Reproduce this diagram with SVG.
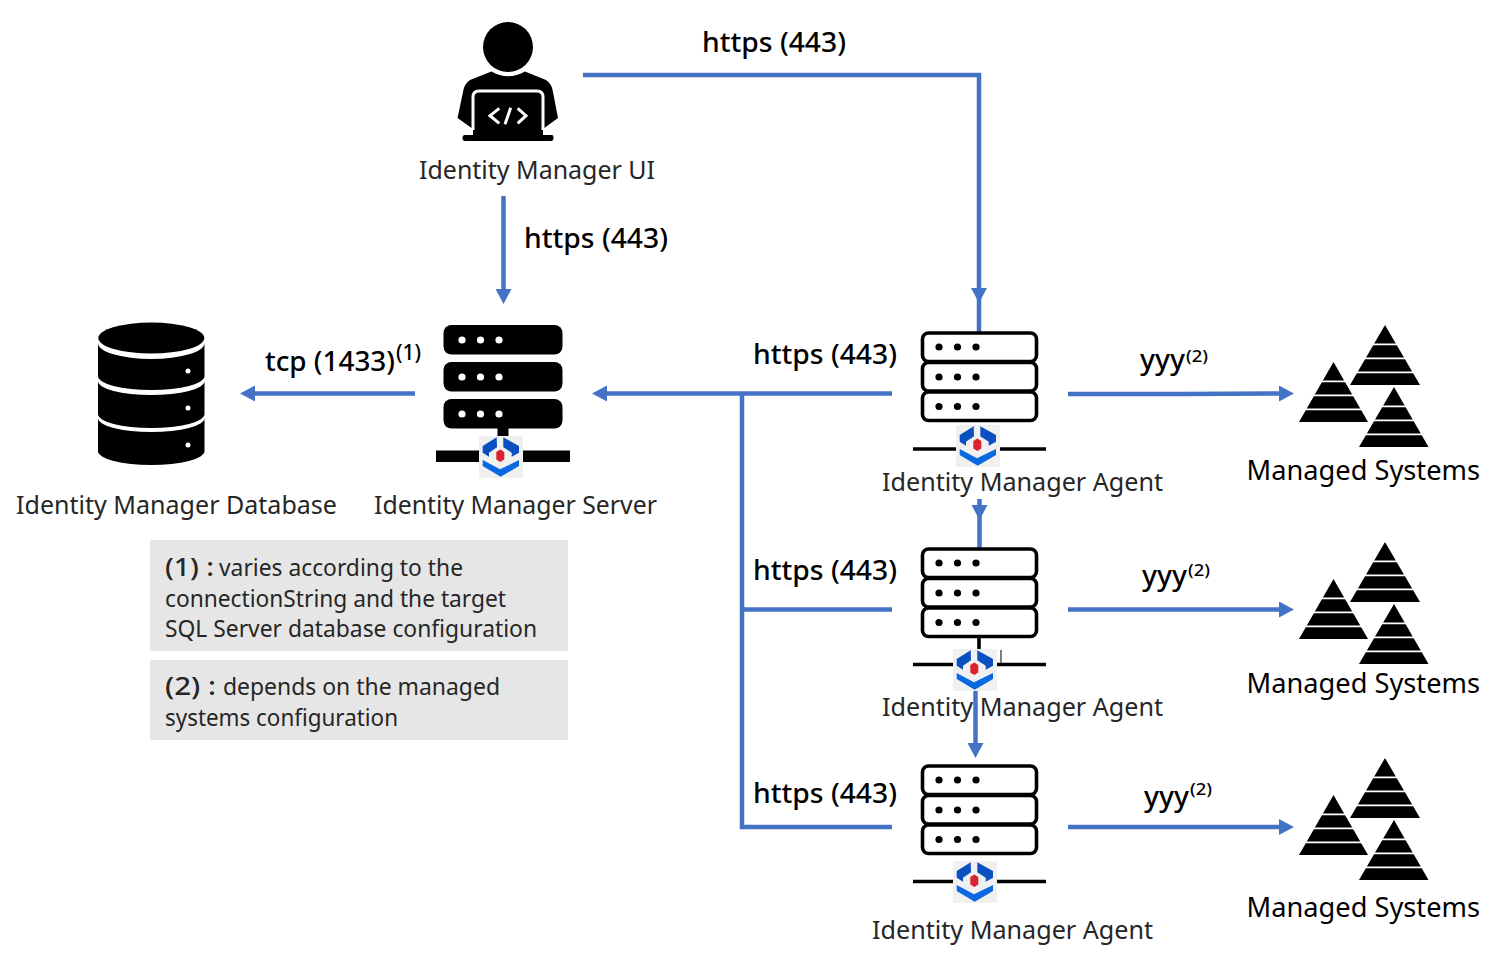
<svg xmlns="http://www.w3.org/2000/svg" width="1498" height="976" viewBox="0 0 1498 976">
<style>
text{font-family:"Noto Sans","Open Sans","Liberation Sans",sans-serif;fill:#262626}
.lab{font-size:26px}
.ms{font-size:27px;fill:#000}
.con{font-size:27px;font-weight:550;fill:#000}
.sup{font-size:17px;font-weight:500;fill:#000}
.note{font-size:24px}
.noteb{font-size:26px;font-weight:550}
.ln{fill:none;stroke:#4472C4;stroke-width:4.5}
.ag{fill:#fff;stroke:#000;stroke-width:3.6}
.wd{fill:#fff}
.kd{fill:#000}
</style>
<defs>
<marker id="arr" markerUnits="userSpaceOnUse" markerWidth="16" markerHeight="16" viewBox="0 0 15 16" refX="4" refY="8" orient="auto"><polygon points="0,0 15,8 0,16" fill="#4472C4"/></marker>
<g id="logo">
<rect width="44" height="42" fill="#f0f0f0"/>
<polygon points="3.7,10 17.7,1.3 18,11.3 10,16.7 10,20.7 3.7,16.7" fill="#0b50c0"/>
<polygon points="24.3,1.3 40,10 40,16.7 32.7,20.7 32.7,16.7 24.3,11.3" fill="#0b50c0"/>
<polygon points="3.7,24 21,33.3 40,24 40,30 21.7,40.7 3.7,30" fill="#0a68e0"/>
<polygon points="21.3,13.500 25.300,16 25.300,23.500 21.3,26 17.300,23.500 17.300,16" fill="#d9232e"/>
</g>
<g id="agentbody">
<rect class="ag" x="922.5" y="333" width="114" height="28.500" rx="6"/>
<rect class="ag" x="922.5" y="362.500" width="114" height="28.500" rx="6"/>
<rect class="ag" x="922.5" y="392" width="114" height="28.500" rx="6"/>
<g class="kd">
<circle cx="939" cy="347" r="3.6"/><circle cx="957.500" cy="347" r="3.6"/><circle cx="976" cy="347" r="3.6"/>
<circle cx="939" cy="377" r="3.6"/><circle cx="957.500" cy="377" r="3.6"/><circle cx="976" cy="377" r="3.6"/>
<circle cx="939" cy="406.500" r="3.6"/><circle cx="957.500" cy="406.500" r="3.6"/><circle cx="976" cy="406.500" r="3.6"/>
</g>
</g>
<g id="pyr">
<polygon class="kd" points="1385,325 1350,385 1420,385"/>
<polygon class="kd" points="1333.500,362 1299,422 1368,422"/>
<polygon class="kd" points="1394,387 1359,447 1428.500,447"/>
<g fill="none" stroke="#fff" stroke-width="1.800">
<path d="M1373,344.300H1397M1365,358.300H1405M1356,372.300H1414"/>
<path d="M1321,381.300H1346M1313,395.300H1354M1305,409.300H1362"/>
<path d="M1382,406.300H1406M1374,420.300H1414M1366,434.300H1422"/>
</g>
</g>
</defs>
<rect width="1498" height="976" fill="#fff"/>

<g id="connectors">
<path class="ln" d="M583,75H979V292" marker-end="url(#arr)"/>
<path class="ln" d="M979,295V332"/>
<path class="ln" d="M503.500,196V293" marker-end="url(#arr)"/>
<path class="ln" d="M892,393.500H603" marker-end="url(#arr)"/>
<path class="ln" d="M742,393.500V827H892"/>
<path class="ln" d="M742,609.500H892"/>
<path class="ln" d="M415,393.500H251" marker-end="url(#arr)"/>
<path class="ln" d="M1068,394H1183L1283,393.500" marker-end="url(#arr)"/>
<path class="ln" d="M1068,609.500H1283" marker-end="url(#arr)"/>
<path class="ln" d="M1068,827H1283" marker-end="url(#arr)"/>
<path class="ln" d="M979.500,499V509" marker-end="url(#arr)"/>
<path class="ln" d="M979.500,512V548"/>
<path class="ln" d="M975.500,691V747" marker-end="url(#arr)"/>
</g>

<g id="ui">
<circle class="kd" cx="508" cy="47" r="25"/>
<path class="kd" d="M491.500,71.500Q508,81 525,71.500L546,80Q552,84 553,92L558,118L543,129V135H552Q553.500,135 553.500,138Q553.500,141 551,141H465Q462.500,141 462.500,138Q462.500,135 465,135H473V129L457.500,118L463,92Q464,84 470,80Z"/>
<path d="M473,130V97Q473,91 479,91H537Q543,91 543,97V130" fill="none" stroke="#fff" stroke-width="3"/>
<path d="M499.300,108.300L490,115.700L499.300,123.300M510.700,107.700L505,124.300M517.700,108.300L526,115.700L517.700,123.300" fill="none" stroke="#fff" stroke-width="3"/>
<text class="lab" x="419" y="179" textLength="236" lengthAdjust="spacingAndGlyphs">Identity Manager UI</text>
</g>

<g id="database">
<ellipse class="kd" cx="151.300" cy="338" rx="53" ry="15.500"/>
<path class="kd" d="M98,343A53,16 0 0 0 204.500,343V376A53,14 0 0 1 98,376Z"/>
<path class="kd" d="M98,381A53,14 0 0 0 204.500,381V414A53,14 0 0 1 98,414Z"/>
<path class="kd" d="M98,418A53,14 0 0 0 204.500,418V451A53,14 0 0 1 98,451Z"/>
<circle class="wd" cx="188" cy="371" r="2.500"/><circle class="wd" cx="188" cy="408" r="2.500"/><circle class="wd" cx="188" cy="445" r="2.500"/>
<text class="lab" x="16" y="514" textLength="321" lengthAdjust="spacingAndGlyphs">Identity Manager Database</text>
</g>

<g id="server">
<rect class="kd" x="443.500" y="325" width="119" height="29.500" rx="8"/>
<rect class="kd" x="443.500" y="362" width="119" height="29.500" rx="8"/>
<rect class="kd" x="443.500" y="399" width="119" height="29.500" rx="8"/>
<circle class="wd" cx="462" cy="340" r="3.600"/><circle class="wd" cx="480.500" cy="340" r="3.600"/><circle class="wd" cx="499" cy="340" r="3.600"/>
<circle class="wd" cx="462" cy="377" r="3.600"/><circle class="wd" cx="480.500" cy="377" r="3.600"/><circle class="wd" cx="499" cy="377" r="3.600"/>
<circle class="wd" cx="462" cy="414" r="3.600"/><circle class="wd" cx="480.500" cy="414" r="3.600"/><circle class="wd" cx="499" cy="414" r="3.600"/>
<rect class="kd" x="497.500" y="428" width="11" height="9"/>
<rect class="kd" x="436" y="450.500" width="134" height="11.500"/>
<use href="#logo" x="479" y="436"/>
<text class="lab" x="374" y="514" textLength="283" lengthAdjust="spacingAndGlyphs">Identity Manager Server</text>
</g>

<g id="agent1">
<use href="#agentbody"/>
<path d="M913,449H1046" stroke="#000" stroke-width="3.600"/>
<use href="#logo" x="956" y="425"/>
<text class="lab" x="882" y="491" textLength="281" lengthAdjust="spacingAndGlyphs">Identity Manager Agent</text>
</g>
<g id="agent2">
<use href="#agentbody" y="216"/>
<path d="M979,637V650" stroke="#000" stroke-width="3.600"/>
<path d="M913,664.500H1046" stroke="#000" stroke-width="3.600"/>
<path d="M1001,650V664" stroke="#000" stroke-width="1"/>
<use href="#logo" x="953" y="649"/>
<text class="lab" x="882" y="716" textLength="281" lengthAdjust="spacingAndGlyphs">Identity Manager Agent</text>
</g>
<g id="agent3">
<use href="#agentbody" y="433"/>
<path d="M913,881.500H1046" stroke="#000" stroke-width="3.600"/>
<use href="#logo" x="953" y="861"/>
<text class="lab" x="872" y="939" textLength="281" lengthAdjust="spacingAndGlyphs">Identity Manager Agent</text>
</g>

<g id="managed1"><use href="#pyr"/><text class="ms" x="1246.500" y="480" textLength="233.500" lengthAdjust="spacingAndGlyphs">Managed Systems</text></g>
<g id="managed2"><use href="#pyr" y="217"/><text class="ms" x="1246.500" y="693" textLength="233.500" lengthAdjust="spacingAndGlyphs">Managed Systems</text></g>
<g id="managed3"><use href="#pyr" y="433"/><text class="ms" x="1246.500" y="917" textLength="233.500" lengthAdjust="spacingAndGlyphs">Managed Systems</text></g>

<g id="labels">
<text class="con" x="702" y="52" textLength="144" lengthAdjust="spacingAndGlyphs">https (443)</text>
<text class="con" x="524" y="248" textLength="144" lengthAdjust="spacingAndGlyphs">https (443)</text>
<text class="con" x="753" y="364" textLength="144" lengthAdjust="spacingAndGlyphs">https (443)</text>
<text class="con" x="753" y="580" textLength="144" lengthAdjust="spacingAndGlyphs">https (443)</text>
<text class="con" x="753" y="803" textLength="144" lengthAdjust="spacingAndGlyphs">https (443)</text>
<text class="con" x="265" y="371" textLength="130" lengthAdjust="spacingAndGlyphs">tcp (1433)</text>
<text class="con" x="396" y="360" style="font-size:21px" textLength="25" lengthAdjust="spacingAndGlyphs">(1)</text>
<text class="con" x="1140" y="369" textLength="45" lengthAdjust="spacingAndGlyphs">yyy</text>
<text class="sup" x="1186" y="362" textLength="22" lengthAdjust="spacingAndGlyphs">(2)</text>
<text class="con" x="1142" y="585" textLength="45" lengthAdjust="spacingAndGlyphs">yyy</text>
<text class="sup" x="1188" y="576" textLength="22" lengthAdjust="spacingAndGlyphs">(2)</text>
<text class="con" x="1144" y="806" textLength="45" lengthAdjust="spacingAndGlyphs">yyy</text>
<text class="sup" x="1190" y="795" textLength="22" lengthAdjust="spacingAndGlyphs">(2)</text>
</g>

<g id="note1">
<rect x="150" y="540" width="418" height="111" fill="#e6e6e6"/>
<text class="noteb" x="165" y="576" textLength="49" lengthAdjust="spacingAndGlyphs">(1) :</text>
<text class="note" x="219" y="576" textLength="244" lengthAdjust="spacingAndGlyphs">varies according to the</text>
<text class="note" x="165" y="607" textLength="341" lengthAdjust="spacingAndGlyphs">connectionString and the target</text>
<text class="note" x="165" y="637" textLength="372" lengthAdjust="spacingAndGlyphs">SQL Server database configuration</text>
</g>
<g id="note2">
<rect x="150" y="660" width="418" height="80" fill="#e6e6e6"/>
<text class="noteb" x="165" y="695" textLength="51" lengthAdjust="spacingAndGlyphs">(2) :</text>
<text class="note" x="223" y="695" textLength="277" lengthAdjust="spacingAndGlyphs">depends on the managed</text>
<text class="note" x="165" y="726" textLength="233" lengthAdjust="spacingAndGlyphs">systems configuration</text>
</g>
</svg>
